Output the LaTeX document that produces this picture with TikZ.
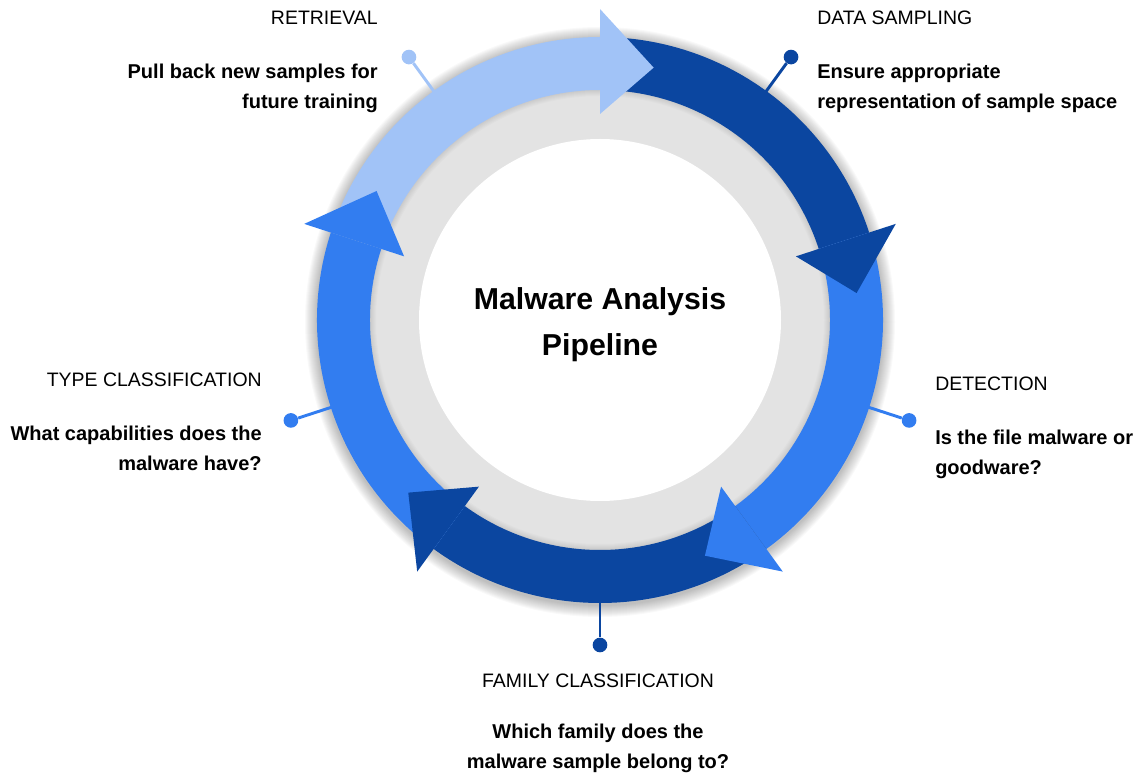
\documentclass[tikz,border=0pt]{standalone}
\usepackage{fontspec}
\setmainfont{Liberation Sans}
\usepackage{tikz}
\usetikzlibrary{positioning}
\definecolor{paleblue}{RGB}{161,195,247}
\definecolor{midblue}{RGB}{50,125,240}
\definecolor{deepblue}{RGB}{11,70,160}
\definecolor{ringgray}{RGB}{227,227,227}
\tikzstyle{steptitle}=[%
      inner sep=0pt, font=\fontsize{14.6pt}{17pt}\selectfont
]
\tikzstyle{stepdesc}=[%
      inner sep=0pt, font=\fontsize{15pt}{22.5pt}\selectfont\bfseries
]
\tikzstyle{pindot}=[%
      circle, inner sep=0pt, minimum size=11pt
]
\tikzstyle{pinline}=[line width=2.2pt]

\begin{document}
\begin{tikzpicture}[x=0.75pt, y=0.75pt]
    \useasboundingbox (-600,-454) rectangle (538,320);

    % soft shadow round the ring, then the gray disc and the white centre
    \foreach \i in {1,...,12}
        \fill[black, opacity=0.022] (0,-2) circle (283+\i);
    \fill[ringgray] (0,0) circle (232);
    \foreach \i in {1,...,8}
        \fill[black, opacity=0.015, even odd rule] (0,0) circle (232) circle (232-\i);
    \fill[white] (0,0) circle (181);

    % pins
    \foreach \ang/\col/\name in {126/paleblue/retrieval, 54/deepblue/sampling,
            -18/midblue/detection, -90/deepblue/family, 198/midblue/type} {
        \coordinate (\name-foot) at (\ang:270);
        \node[pindot, fill=\col] (\name-dot) at (\ang:325) {};
        \draw[pinline, \col] (\name-foot) -- (\name-dot);
    }

    % ring bodies
    \foreach \from/\to/\col in {162/90/paleblue, 90/18/deepblue, 18/-54/midblue,
            -54/-126/deepblue, -126/-198/midblue}
        \fill[\col] (\from:283) arc[start angle=\from, end angle=\to, radius=283]
            -- (\to:230) arc[start angle=\to, end angle=\from, radius=230] -- cycle;

    % arrow heads on top
    \foreach \to/\col in {90/paleblue, 18/deepblue, -54/midblue, -126/deepblue, -198/midblue}
        \fill[\col] (\to:206) -- (\to:311) -- (\to-12:258) -- cycle;

    \node[font=\fontsize{22.7pt}{34.5pt}\selectfont\bfseries, align=center]
        (pipeline) at (0,-5) {Malware Analysis\\Pipeline};

    \node[steptitle, anchor=east] (retrieval) at (-222,302) {RETRIEVAL};
    \node[stepdesc, align=right, below=29.25pt of retrieval.south east, anchor=north east]
        (retrieval-text) {Pull back new samples for\\future training};

    \node[steptitle, anchor=west] (sampling) at (217,302) {DATA SAMPLING};
    \node[stepdesc, align=left, below=29.25pt of sampling.south west, anchor=north west]
        (sampling-text) {Ensure appropriate\\representation of sample space};

    \node[steptitle, anchor=west] (detection) at (335,-64) {DETECTION};
    \node[stepdesc, align=left, below=29.25pt of detection.south west, anchor=north west]
        (detection-text) {Is the file malware or\\goodware?};

    \node[steptitle] (family) at (-2,-361) {FAMILY CLASSIFICATION};
    \node[stepdesc, align=center, below=26.5pt of family]
        (family-text) {Which family does the\\malware sample belong to?};

    \node[steptitle, anchor=east] (type) at (-338,-60) {TYPE CLASSIFICATION};
    \node[stepdesc, align=right, below=29.25pt of type.south east, anchor=north east]
        (type-text) {What capabilities does the\\malware have?};

\end{tikzpicture}
\end{document}
